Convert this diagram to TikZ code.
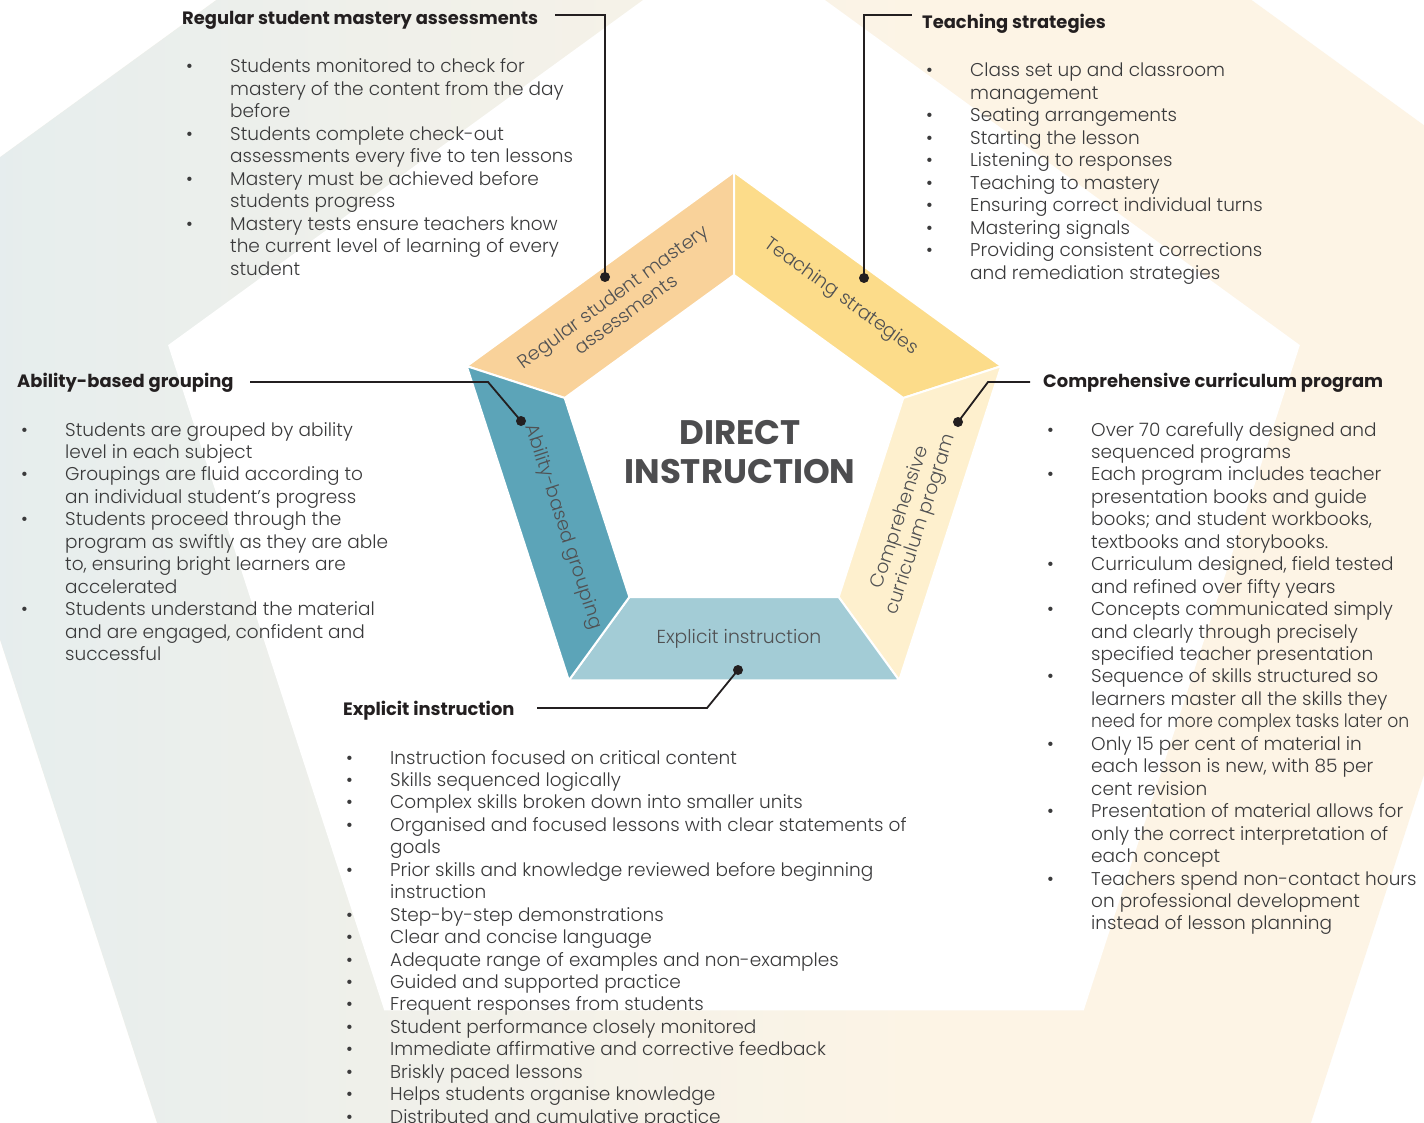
\documentclass[tikz,border=0pt]{standalone}
\usepackage{fontspec}
\usepackage{graphicx}
\setmainfont{Poppins}
\newfontfamily\lightfont{Poppins Light}
\usetikzlibrary{calc}
\definecolor{bgblue}{HTML}{E5EDEE}
\definecolor{bgcream}{HTML}{FDF4E5}
\definecolor{segorange}{HTML}{F9D29A}
\definecolor{segyellow}{HTML}{FCDC8A}
\definecolor{segcream}{HTML}{FEF0CE}
\definecolor{seglight}{HTML}{A3CCD6}
\definecolor{segteal}{HTML}{5CA4B8}
\definecolor{bodygrey}{HTML}{3A3A3B}
\definecolor{labelgrey}{HTML}{505153}
\definecolor{titlegrey}{HTML}{4D4D4F}
\definecolor{ink}{HTML}{231F20}
\tikzset{
  body/.style={font=\lightfont\fontsize{18.5}{22.45}\selectfont, text=bodygrey, inner sep=0pt, anchor=base west},
  head/.style={font=\bfseries\fontsize{17.9}{20}\selectfont, text=ink, inner sep=0pt, anchor=base west},
  seglabel/.style={font=\lightfont\fontsize{18.8}{22}\selectfont, text=labelgrey, align=center, inner sep=0pt},
  conn/.style={draw=ink, line width=1.8pt, line join=miter},
  dot/.style={circle, fill=ink, inner sep=0pt, minimum size=10pt},
  seg/.style={draw=white, line width=2pt, line join=miter},
}
\newcommand\bl{\textbullet}
\newcommand\blist[1]{\begin{tabular}[t]{@{}p{44pt}@{}l@{}}#1\end{tabular}}
\begin{document}
\begin{tikzpicture}[x=1pt,y=-1pt]
\useasboundingbox (0,0) rectangle (1424,1123);
\fill[white] (0,0) rectangle (1424,1123);
% background pentagon ring
\begin{scope}[shift={(734,529)},y=1pt]
  \foreach \a in {90,162,234,306,18}{
    \coordinate (BO\a) at (\a:905);
    \coordinate (BI\a) at (\a:595);
  }
\end{scope}
\begin{scope}
  \clip (BO90) -- (BO162) -- (BO234) -- (BO306) -- (BO18) -- cycle;
  \fill[bgcream] (-300,-500) rectangle (1800,1600);
  \shade[left color=bgblue, right color=bgcream] (-50,-500) rectangle (950,1600);
  \fill[bgblue] (-300,-500) rectangle (-49,1600);
\end{scope}
\fill[white] (BI90) -- (BI162) -- (BI234) -- (BI306) -- (BI18) -- cycle;
% central pentagon segments
\begin{scope}[shift={(734,453)},y=1pt]
  \foreach \a in {90,162,234,306,18}{
    \coordinate (O\a) at (\a:281);
    \coordinate (I\a) at (\a:178);
  }
\end{scope}
\fill[segorange,seg] (O162) -- (O90) -- (I90) -- (I162) -- cycle;
\fill[segyellow,seg] (O90) -- (O18) -- (I18) -- (I90) -- cycle;
\fill[segcream,seg] (O18) -- (O306) -- (I306) -- (I18) -- cycle;
\fill[seglight,seg] (O306) -- (O234) -- (I234) -- (I306) -- cycle;
\fill[segteal,seg] (O234) -- (O162) -- (I162) -- (I234) -- cycle;
% segment labels
\node[seglabel, rotate=36] (s1) at (619,305) {Regular student mastery\\assessments};
\node[seglabel, rotate=-36] (s2) at (841,297) {Teaching strategies};
\node[seglabel, rotate=72] (s3) at (911,521) {Comprehensive\\curriculum program};
\node[seglabel] (s4) at (739,639) {Explicit instruction};
\node[seglabel, rotate=-72] (s5) at (563,527) {Ability-based grouping};
% centre title
\node[font=\bfseries\fontsize{34}{39}\selectfont, text=titlegrey, align=center, inner sep=0pt] (title) at (740,452) {DIRECT\\INSTRUCTION};
% headings
\node[head] (h1) at (182,25) {Regular student mastery assessments};
\node[head] (h2) at (922,29) {Teaching strategies};
\node[head] (h3) at (17,387) {Ability-based grouping};
\node[head] (h4) at (1043,387) {Comprehensive curriculum program};
\node[head] (h5) at (343,715) {Explicit instruction};
% lists
\node[body] (l1) at (186,73) {\blist{
\bl & Students monitored to check for\\
 & mastery of the content from the day\\
 & before\\
\bl & Students complete check-out\\
 & assessments every five to ten lessons\\
\bl & Mastery must be achieved before\\
 & students progress\\
\bl & Mastery tests ensure teachers know\\
 & the current level of learning of every\\
 & student}};
\node[body] (l2) at (926,77) {\blist{
\bl & Class set up and classroom\\
 & management\\
\bl & Seating arrangements\\
\bl & Starting the lesson\\
\bl & Listening to responses\\
\bl & Teaching to mastery\\
\bl & Ensuring correct individual turns\\
\bl & Mastering signals\\
\bl & Providing consistent corrections\\
 & and remediation strategies}};
\node[body] (l3) at (21,436) {\blist{
\bl & Students are grouped by ability\\
 & level in each subject\\
\bl & Groupings are fluid according to\\
 & an individual student’s progress\\
\bl & Students proceed through the\\
 & program as swiftly as they are able\\
 & to, ensuring bright learners are\\
 & accelerated\\
\bl & Students understand the material\\
 & and are engaged, confident and\\
 & successful}};
\node[body] (l4) at (1047,436) {\blist{
\bl & Over 70 carefully designed and\\
 & sequenced programs\\
\bl & Each program includes teacher\\
 & presentation books and guide\\
 & books; and student workbooks,\\
 & textbooks and storybooks.\\
\bl & Curriculum designed, field tested\\
 & and refined over fifty years\\
\bl & Concepts communicated simply\\
 & and clearly through precisely\\
 & specified teacher presentation\\
\bl & Sequence of skills structured so\\
 & learners master all the skills they\\
 & \scalebox{0.93}[1]{need for more complex tasks later on}\\
\bl & Only 15 per cent of material in\\
 & each lesson is new, with 85 per\\
 & cent revision\\
\bl & Presentation of material allows for\\
 & only the correct interpretation of\\
 & each concept\\
\bl & Teachers spend non-contact hours\\
 & on professional development\\
 & instead of lesson planning}};
\node[body] (l5) at (346,764) {\blist{
\bl & Instruction focused on critical content\\
\bl & Skills sequenced logically\\
\bl & Complex skills broken down into smaller units\\
\bl & Organised and focused lessons with clear statements of\\
 & goals\\
\bl & Prior skills and knowledge reviewed before beginning\\
 & instruction\\
\bl & Step-by-step demonstrations\\
\bl & Clear and concise language\\
\bl & Adequate range of examples and non-examples\\
\bl & Guided and supported practice\\
\bl & Frequent responses from students\\
\bl & Student performance closely monitored\\
\bl & Immediate affirmative and corrective feedback\\
\bl & Briskly paced lessons\\
\bl & Helps students organise knowledge\\
\bl & Distributed and cumulative practice}};
% connectors
\node[dot] (d1) at (605,277) {};
\node[dot] (d2) at (864,278) {};
\node[dot] (d3) at (521,421) {};
\node[dot] (d4) at (958,422) {};
\node[dot] (d5) at (738,670) {};
\coordinate (k1) at (605,15);
\coordinate (k2) at (864,15);
\coordinate (k3) at (488,382);
\coordinate (k4) at (988,382);
\coordinate (k5) at (707,708);
\draw[conn] (555,15) -- (k1) -- (d1.center);
\draw[conn] (d2.center) -- (k2) -- (912,15);
\draw[conn] (250,382) -- (k3) -- (d3.center);
\draw[conn] (d4.center) -- (k4) -- (1030,382);
\draw[conn] (d5.center) -- (k5) -- (537,708);
\end{tikzpicture}
\end{document}
